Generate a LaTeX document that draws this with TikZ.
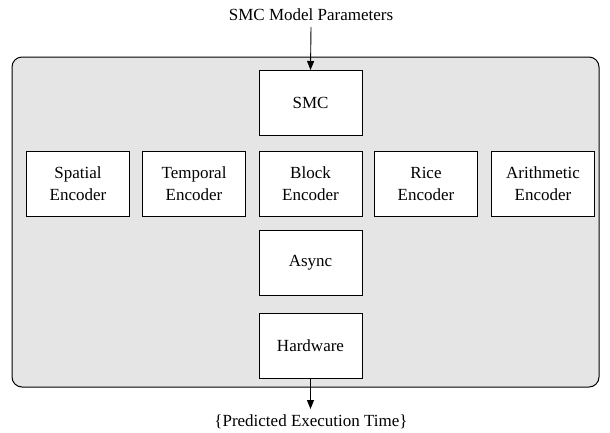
\documentclass[tikz,border=0pt]{standalone}
\usepackage{fontspec}
\setmainfont{Liberation Serif}
\usetikzlibrary{arrows.meta}
\definecolor{panel}{HTML}{E5E5E5}
\begin{document}
\begin{tikzpicture}[x=1pt,y=-1pt,
  blk/.style={draw=black,line width=1pt,fill=white,minimum width=103pt,minimum height=65pt,inner sep=0pt,align=center,font=\fontsize{17}{22}\selectfont},
  lbl/.style={inner sep=0pt,font=\fontsize{17}{22}\selectfont},
  arr/.style={line width=0.9pt,-{Triangle[length=9pt,width=7pt]}}]
\useasboundingbox (0,0) rectangle (610,432);
\draw[line width=1pt,fill=panel,rounded corners=10pt] (12,57) rectangle (599,387);
\node[lbl] (top) at (311,15) {SMC Model Parameters};
\node[blk] (smc) at (310.5,103) {SMC};
\node[blk] (spatial) at (78,184) {Spatial\\Encoder};
\node[blk] (temporal) at (194,184) {Temporal\\Encoder};
\node[blk] (block) at (310.5,184) {Block\\Encoder};
\node[blk] (rice) at (426,184) {Rice\\Encoder};
\node[blk] (arith) at (543,184) {Arithmetic\\Encoder};
\node[blk] (async) at (310.5,263) {Async};
\node[blk] (hw) at (310.5,345.5) {Hardware};
\node[lbl] (out) at (311,422) {\{Predicted Execution Time\}};
\draw[arr] (top.south |- 0,27) -- (smc.north);
\coordinate (end) at (310.5,409);
\draw[arr] (hw.south) -- (end);
\end{tikzpicture}
\end{document}
